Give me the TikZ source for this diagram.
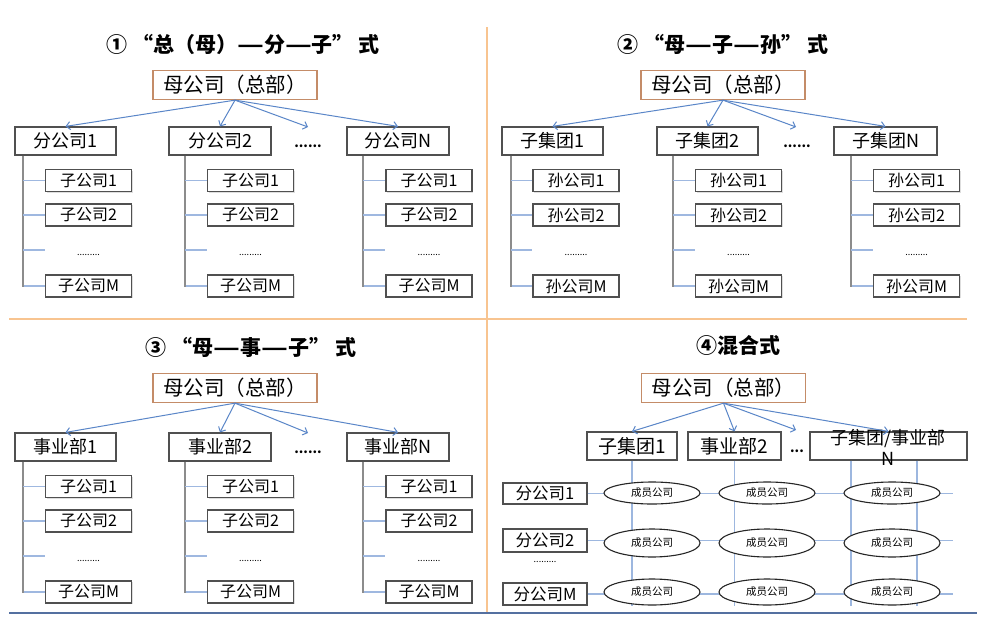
\documentclass[tikz,border=0pt]{standalone}
\usepackage{fontspec}
\setmainfont{Noto Sans CJK SC}
\usetikzlibrary{arrows.meta,shapes.geometric,shadows}
\newcommand\ldash{\scalebox{1.4}[1]{—}}
\definecolor{boxc}{HTML}{505050}
\definecolor{parc}{RGB}{196,140,104}
\definecolor{arrc}{HTML}{5A86C8}
\definecolor{vlc}{HTML}{8C8C8C}
\definecolor{tickc}{HTML}{9FB8E0}
\definecolor{divc}{HTML}{F8C490}
\definecolor{blc}{HTML}{5470A0}
\definecolor{gridc}{HTML}{9DB7DF}
\tikzset{
  box/.style={draw=boxc, line width=1.2pt, fill=white, inner sep=0pt, minimum height=28pt,
    font=\fontsize{18}{18}\selectfont, drop shadow={shadow xshift=1pt,shadow yshift=-1pt,fill=black!25}},
  parent/.style={draw=parc, line width=1.3pt, fill=white, inner sep=0pt, minimum width=164pt,
    minimum height=29pt, font=\fontsize{20.5}{20.5}\selectfont},
  child/.style={box, minimum width=86pt, minimum height=22pt, font=\fontsize{16}{16}\selectfont},
  rowbox/.style={box, minimum width=84pt, font=\fontsize{16.5}{16.5}\selectfont},
  mbox/.style={box, minimum height=28pt, font=\fontsize{19}{19}\selectfont},
  member/.style={ellipse, draw=black!85, line width=1.1pt, fill=white, inner sep=0pt,
    minimum width=96pt, font=\fontsize{10.5}{10.5}\selectfont},
  ttl/.style={font=\bfseries\fontsize{21}{21}\selectfont},
  dotsn/.style={font=\bfseries\fontsize{13}{13}\selectfont, inner sep=0pt},
  cdots/.style={font=\fontsize{9}{9}\selectfont, inner sep=0pt},
  arr/.style={draw=arrc, line width=1pt, -{Straight Barb[length=4pt,width=8pt]}},
  vline/.style={draw=vlc, line width=1.3pt},
  tick/.style={draw=tickc, line width=1.2pt},
  gridl/.style={draw=gridc, line width=1.2pt},
}
% #1 name, #2 box x, #3 box width, #4 box label, #5 vertical x, #6 child x, #7 child prefix
\newcommand\mycol[7]{%
  \node[box, minimum width=#3] (#1) at (#2,141) {#4};
  \coordinate (#1v) at (#5,250);
  \node[child] (#1c1) at (#6,180.5) {#71};
  \node[child] (#1c2) at (#6,215) {#72};
  \node[cdots] (#1cd) at (#6,255) {.........};
  \node[child] (#1cm) at (#6,286) {#7M};
  \draw[vline] (#1.south -| #1v) |- (#1cm.west);
  \draw[tick] (#1c1.west -| #1v) -- (#1c1.west);
  \draw[tick] (#1c2.west -| #1v) -- (#1c2.west);
  \draw[tick] (#1v) -- (#1v -| #1c1.west);
  \draw[tick] ([xshift=0.7pt]#1cm.west -| #1v) -- (#1cm.west);
}
\begin{document}
\begin{tikzpicture}[x=1pt,y=-1pt]
\useasboundingbox (0,0) rectangle (996,632);
\fill[white] (0,0) rectangle (996,632);
% dividers
\draw[divc, line width=1.5pt] (487,27) -- (487,613);
\draw[divc, line width=1.5pt] (9,319) -- (967,319);
\draw[blc, line width=1.3pt] (9,613) -- (977,613);

% ---------- quadrant 1
\node[ttl] (t1) at (243,44) {① “总（母）\ldash 分\ldash 子” 式};
\node[parent] (p1) at (235,85) {母公司（总部）};
\mycol{a1}{65.5}{101pt}{分公司1}{23}{88.5}{子公司}
\mycol{a2}{220}{102pt}{分公司2}{185}{250.5}{子公司}
\mycol{a3}{398}{102pt}{分公司N}{363}{429}{子公司}
\node[dotsn] (d1) at (308,146) {......};
\coordinate (d1a) at (308,127);
\draw[arr] (p1.south) -- (a1.north);
\draw[arr] (p1.south) -- (a2.north);
\draw[arr] (p1.south) -- (d1a);
\draw[arr] (p1.south) -- (a3.north);

% ---------- quadrant 2
\node[ttl] (t2) at (723,44) {② “母\ldash 子\ldash 孙” 式};
\node[parent] (p2) at (723,85) {母公司（总部）};
\mycol{b1}{552.5}{101pt}{子集团1}{511}{576}{孙公司}
\mycol{b2}{707.5}{101pt}{子集团2}{673}{738.5}{孙公司}
\mycol{b3}{885.5}{103pt}{子集团N}{851}{916.5}{孙公司}
\node[dotsn] (d2) at (797,146) {......};
\coordinate (d2a) at (796,127);
\draw[arr] (p2.south) -- (b1.north);
\draw[arr] (p2.south) -- (b2.north);
\draw[arr] (p2.south) -- (d2a);
\draw[arr] (p2.south) -- (b3.north);

% ---------- quadrant 3
\node[ttl] (t3) at (251,347) {③ “母\ldash 事\ldash 子” 式};
\node[parent] (p3) at (235,388) {母公司（总部）};
\begin{scope}[shift={(0,306)}]
\mycol{s1}{65.5}{101pt}{事业部1}{23}{88.5}{子公司}
\mycol{s2}{220}{102pt}{事业部2}{185}{250.5}{子公司}
\mycol{s3}{398}{102pt}{事业部N}{363}{429}{子公司}
\node[dotsn] (d3) at (308,146) {......};
\coordinate (d3a) at (308,127);
\end{scope}
\draw[arr] (p3.south) -- (s1.north);
\draw[arr] (p3.south) -- (s2.north);
\draw[arr] (p3.south) -- (d3a);
\draw[arr] (p3.south) -- (s3.north);

% ---------- quadrant 4
\node[ttl] (t4) at (738,345) {④混合式};
\node[parent] (p4) at (723.5,388) {母公司（总部）};
\node[mbox, minimum width=90pt] (m1) at (632,446) {子集团1};
\node[mbox, minimum width=93pt] (m2) at (734.5,446) {事业部2};
\node[box, minimum width=157pt] (m3) at (888.5,446) {};
\node[font=\fontsize{18}{21}\selectfont, align=center, inner sep=0pt] (m3t) at (888,447) {子集团/事业部\\N};
\node[dotsn] (d4) at (797,451) {...};
\coordinate (d4a) at (796,430);
\draw[arr] (p4.south) -- (m1.north);
\draw[arr] (p4.south) -- (m2.north);
\draw[arr] (p4.south) -- (d4a);
\draw[arr] (p4.south) -- (m3.north);

\node[rowbox, minimum height=21pt] (r1) at (545,493.5) {分公司1};
\node[rowbox, minimum height=23pt] (r2) at (545,540.5) {分公司2};
\node[rowbox, minimum height=22pt] (r3) at (545,594) {分公司M};
\node[cdots] (d5) at (545,562) {.........};

\draw[gridl] (m1.south) -- ++(0,145);
\draw[gridl] (m2.south) -- ++(0,145);
\draw[gridl] ([xshift=-37.5pt]m3.south) -- ++(0,145);
\draw[gridl] ([xshift=28.5pt]m3.south) -- ++(0,145);
\draw[gridl] (r1.east) -- ++(365,0);
\draw[gridl] (r2.east) -- ++(365,0);
\draw[gridl] (r3.east) -- ++(365,0);

\node[member, minimum height=22pt] (e11) at (652,493) {成员公司};
\node[member, minimum height=22pt] (e12) at (767,493) {成员公司};
\node[member, minimum height=22pt] (e13) at (892,493) {成员公司};
\node[member, minimum height=28pt] (e21) at (652,543) {成员公司};
\node[member, minimum height=28pt] (e22) at (767,543) {成员公司};
\node[member, minimum height=28pt] (e23) at (892,543) {成员公司};
\node[member, minimum height=26pt] (e31) at (652,592) {成员公司};
\node[member, minimum height=26pt] (e32) at (767,592) {成员公司};
\node[member, minimum height=26pt] (e33) at (892,592) {成员公司};
\end{tikzpicture}
\end{document}
